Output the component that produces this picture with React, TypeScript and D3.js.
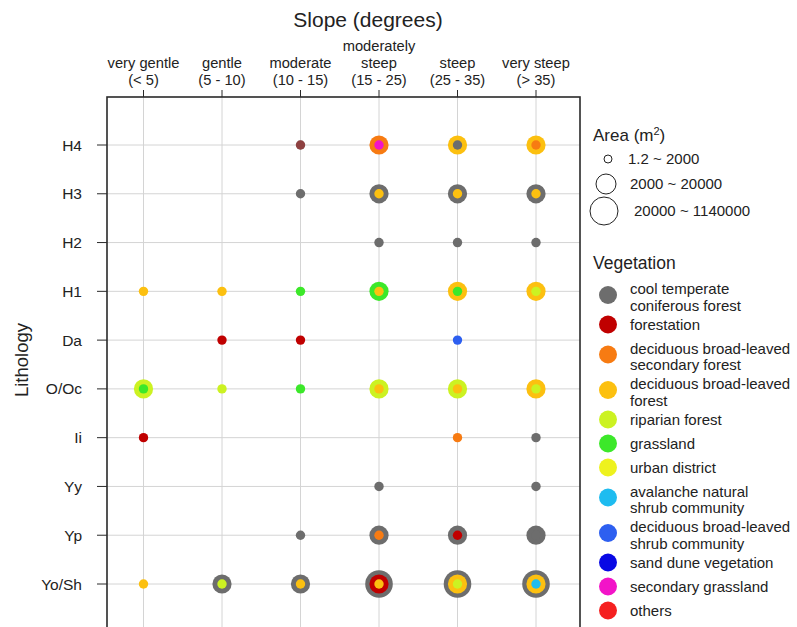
import React from 'react';
import * as d3 from 'd3';

const slopeLabels = [
  ['very gentle', '(< 5)'],
  ['gentle', '(5 - 10)'],
  ['moderate', '(10 - 15)'],
  ['moderately', 'steep', '(15 - 25)'],
  ['steep', '(25 - 35)'],
  ['very steep', '(> 35)'],
];
const lithology = ['H4', 'H3', 'H2', 'H1', 'Da', 'O/Oc', 'Ii', 'Yy', 'Yp', 'Yo/Sh'];
const areaClasses = ['1.2 ~ 2000', '2000 ~ 20000', '20000 ~ 1140000'];
const vegetationLabels = [
  ['cool temperate', 'coniferous forest'],
  ['forestation'],
  ['deciduous broad-leaved', 'secondary forest'],
  ['deciduous broad-leaved', 'forest'],
  ['riparian forest'],
  ['grassland'],
  ['urban district'],
  ['avalanche natural', 'shrub community'],
  ['deciduous broad-leaved', 'shrub community'],
  ['sand dune vegetation'],
  ['secondary grassland'],
  ['others'],
];
const vegetationColors = [
  '#6d6d6d', '#c00000', '#f77b12', '#fcc010', '#ccf222', '#3ce82a',
  '#eef21e', '#1ebcf0', '#2d5ff0', '#0808e4', '#f214c8', '#f52020',
];

// [lithology, slope index, vegetation for area class small, medium, large]
type Veg = number | number[] | null;
const cells: [string, number, Veg, Veg, Veg][] = [
  ['H4', 2, [0, 1], null, null], ['H4', 3, 10, 2, null], ['H4', 4, 0, 3, null], ['H4', 5, 2, 3, null],
  ['H3', 2, 0, null, null], ['H3', 3, 3, 0, null], ['H3', 4, 3, 0, null], ['H3', 5, 3, 0, null],
  ['H2', 3, 0, null, null], ['H2', 4, 0, null, null], ['H2', 5, 0, null, null],
  ['H1', 0, 3, null, null], ['H1', 1, 3, null, null], ['H1', 2, 5, null, null],
  ['H1', 3, 3, 5, null], ['H1', 4, 5, 3, null], ['H1', 5, 4, 3, null],
  ['Da', 1, 1, null, null], ['Da', 2, 1, null, null], ['Da', 4, 8, null, null],
  ['O/Oc', 0, 5, 4, null], ['O/Oc', 1, 4, null, null], ['O/Oc', 2, 5, null, null],
  ['O/Oc', 3, 3, 4, null], ['O/Oc', 4, 3, 4, null], ['O/Oc', 5, 4, 3, null],
  ['Ii', 0, 1, null, null], ['Ii', 4, 2, null, null], ['Ii', 5, 0, null, null],
  ['Yy', 3, 0, null, null], ['Yy', 5, 0, null, null],
  ['Yp', 2, 0, null, null], ['Yp', 3, 2, 0, null], ['Yp', 4, 1, 0, null], ['Yp', 5, 0, 0, null],
  ['Yo/Sh', 0, 3, null, null], ['Yo/Sh', 1, 4, 0, null], ['Yo/Sh', 2, 3, 0, null],
  ['Yo/Sh', 3, 3, 1, 0], ['Yo/Sh', 4, 4, 3, 0], ['Yo/Sh', 5, 7, 3, 0],
];

const W = 797;
const H = 627;
const frame = { left: 107, top: 97, right: 580, bottom: 640 };
const font = '"Liberation Sans", Arial, sans-serif';
const textColor = '#222';

export default function App() {
  const x = d3.scalePoint<number>().domain(d3.range(slopeLabels.length)).range([143.5, 536]);
  const y = d3.scalePoint<string>().domain(lithology).range([145, 584]);
  const r = d3.scaleOrdinal<number, number>().domain([0, 1, 2]).range([4.7, 9.6, 13.8]);

  // legend layout for vegetation
  const legendX = 608;
  const legendTextX = 630;
  let ly = 289;
  const vegRows = vegetationLabels.map((lines, i) => {
    if (i > 0) {
      const prev = vegetationLabels[i - 1];
      ly += (prev.length - 1) * 16.5 + (prev.length > 1 ? 19 : 24);
    }
    return { lines, y0: ly, cy: lines.length > 1 ? ly + 6 : ly, color: vegetationColors[i] };
  });

  const areaRows = areaClasses.map((label, i) => ({
    label,
    cy: [159, 184, 211][i],
    cx: 608 - i * 2,
    tx: [628, 630, 634][i],
  }));

  return (
    <svg
      width={W}
      height={H}
      style={{ position: 'absolute', left: 0, top: 0, background: '#fff' }}
      fontFamily={font}
    >
      <rect width={W} height={H} fill="#fff" />
      {/* grid */}
      {slopeLabels.map((_, i) => (
        <line key={'vg' + i} x1={x(i)} x2={x(i)} y1={frame.top} y2={frame.bottom} stroke="#d4d4d4" strokeWidth={1} />
      ))}
      {lithology.map((l) => (
        <line key={'hg' + l} x1={frame.left} x2={frame.right} y1={y(l)} y2={y(l)} stroke="#d4d4d4" strokeWidth={1} />
      ))}
      {/* bubbles */}
      {cells.map(([lith, s, ...layers], ci) => {
        const cx = x(s)!;
        const cy = y(lith)!;
        const out: React.ReactNode[] = [];
        [2, 1, 0].forEach((k) => {
          const v = layers[k];
          if (v === null) return;
          const list = Array.isArray(v) ? v : [v];
          list.forEach((vi, j) => {
            out.push(
              <circle
                key={`${ci}-${k}-${j}`}
                cx={cx}
                cy={cy}
                r={r(k)}
                fill={vegetationColors[vi]}
                fillOpacity={j === 0 ? 1 : 0.4}
              />
            );
          });
        });
        return <g key={ci}>{out}</g>;
      })}
      {/* frame */}
      <rect
        x={frame.left}
        y={frame.top}
        width={frame.right - frame.left}
        height={frame.bottom - frame.top}
        fill="none"
        stroke="#2a2a2a"
        strokeWidth={1.6}
      />
      {/* top ticks & labels */}
      {slopeLabels.map((lines, i) => (
        <g key={'xt' + i}>
          <line x1={x(i)} x2={x(i)} y1={frame.top - 7} y2={frame.top} stroke="#2a2a2a" strokeWidth={1} />
          {lines.map((t, j) => (
            <text
              key={j}
              x={x(i)}
              y={85 - (lines.length - 1 - j) * 17}
              textAnchor="middle"
              fontSize={14.7}
              fill={textColor}
            >
              {t}
            </text>
          ))}
        </g>
      ))}
      <text x={368} y={27} textAnchor="middle" fontSize={21} fill={textColor}>
        Slope (degrees)
      </text>
      {/* left ticks & labels */}
      {lithology.map((l) => (
        <g key={'yt' + l}>
          <line x1={frame.left - 10} x2={frame.left} y1={y(l)} y2={y(l)} stroke="#2a2a2a" strokeWidth={1} />
          <text x={82} y={y(l)} dy="0.36em" textAnchor="end" fontSize={15.5} fill={textColor}>
            {l}
          </text>
        </g>
      ))}
      <text
        transform="translate(28,360) rotate(-90)"
        textAnchor="middle"
        fontSize={18.5}
        fill={textColor}
      >
        Lithology
      </text>
      {/* area legend */}
      <text x={593} y={141} fontSize={17} fill={textColor}>
        Area (m<tspan dy={-6} fontSize={11}>2</tspan>
        <tspan dy={6}>)</tspan>
      </text>
      {areaRows.map((a, i) => (
        <g key={'ar' + i}>
          <circle cx={a.cx} cy={a.cy} r={[4, 10, 14][i]} fill="#fff" stroke="#222" strokeWidth={1} />
          <text x={a.tx} y={a.cy} dy="0.36em" fontSize={15} fill={textColor}>
            {a.label}
          </text>
        </g>
      ))}
      {/* vegetation legend */}
      <text x={593} y={269} fontSize={17.5} fill={textColor}>
        Vegetation
      </text>
      {vegRows.map((row, i) => (
        <g key={'vr' + i}>
          <circle cx={legendX} cy={row.cy} r={9} fill={row.color} />
          {row.lines.map((t, j) => (
            <text key={j} x={legendTextX} y={row.y0 + j * 16.5} dy="0.36em" fontSize={15} fill={textColor}>
              {t}
            </text>
          ))}
        </g>
      ))}
    </svg>
  );
}
